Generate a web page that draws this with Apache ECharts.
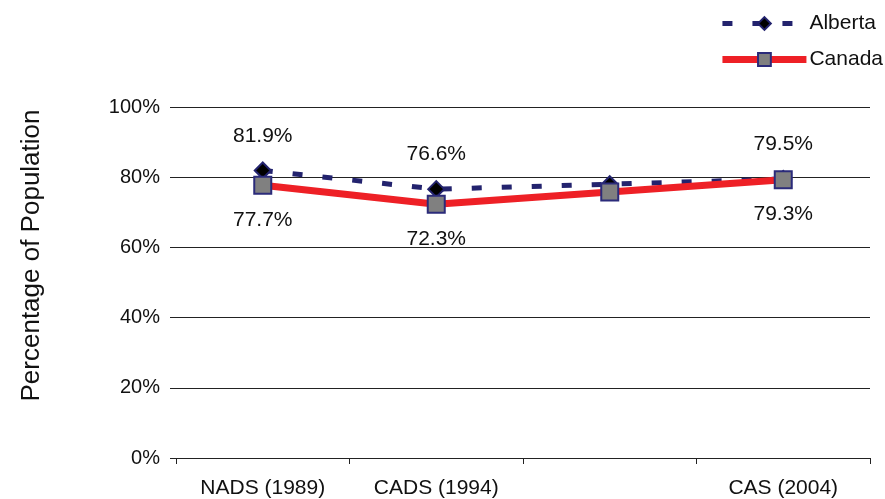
<!DOCTYPE html>
<html>
<head>
  <meta charset="UTF-8">
  <title>Percentage of Population</title>
  <script src="https://cdn.jsdelivr.net/npm/echarts@6/dist/echarts.min.js"></script>
  <style>
    body { margin: 0; padding: 0; background: #fff; }
    #chart { width: 885px; height: 499px; }
  </style>
</head>
<body>
  <div id="chart"></div>
  <script>
    // survey categories (third one has no label in the original)
    const surveys = ['NADS (1989)', 'CADS (1994)', '', 'CAS (2004)'];
    const alberta = [81.9, 76.6, 78.0, 79.5];
    const canada = [77.7, 72.3, 75.8, 79.3];
    const yTicks = [0, 20, 40, 60, 80, 100];
    // which points carry a value label
    const labelled = [true, true, false, true];

    const chart = echarts.init(document.getElementById('chart'));
    const font = 'Liberation Sans, Arial, sans-serif';
    const navy = '#23236e';
    const red = '#ee2026';

    function pct(p) {
      return labelled[p.dataIndex] ? p.value.toFixed(1) + '%' : '';
    }

    chart.setOption({
      animation: false,
      textStyle: { fontFamily: font },
      legend: {
        orient: 'vertical',
        right: -3,
        top: 8,
        itemWidth: 84,
        itemHeight: 16,
        itemGap: 15,
        textStyle: { fontSize: 21, color: '#111', fontFamily: font, padding: [0, 0, 0, -2] },
        data: [
          { name: 'Alberta', lineStyle: { width: 5, color: navy, type: [10, 20] } },
          { name: 'Canada', lineStyle: { width: 7, color: red } }
        ]
      },
      grid: { left: 176, right: 15, top: 107, bottom: 41 },
      xAxis: {
        type: 'category',
        data: surveys,
        boundaryGap: true,
        axisLine: { lineStyle: { color: '#222', width: 1 } },
        axisTick: { show: true, length: 6, lineStyle: { color: '#222' } },
        axisLabel: { fontSize: 21, color: '#111', margin: 20, interval: 0 }
      },
      yAxis: {
        type: 'value',
        min: yTicks[0],
        max: yTicks[yTicks.length - 1],
        interval: 20,
        name: 'Percentage of Population',
        nameLocation: 'middle',
        nameGap: 131,
        nameTextStyle: { fontSize: 26, color: '#111', padding: [0, 0, 0, 54] },
        axisLine: { show: false },
        axisTick: { show: true, length: 6, lineStyle: { color: '#222' } },
        axisLabel: { fontSize: 20, color: '#111', margin: 16, formatter: '{value}%' },
        splitLine: { lineStyle: { color: '#222', width: 1 } }
      },
      series: [
        {
          name: 'Alberta',
          type: 'line',
          data: alberta,
          symbol: 'diamond',
          symbolSize: 16,
          z: 3,
          itemStyle: { color: '#000', borderColor: navy, borderWidth: 2 },
          lineStyle: { color: navy, width: 5, type: [10, 20] },
          label: { show: true, position: 'top', distance: 15, fontSize: 21, color: '#111', formatter: pct }
        },
        {
          name: 'Canada',
          type: 'line',
          data: canada,
          symbol: 'rect',
          symbolSize: 17,
          z: 4,
          itemStyle: { color: '#808080', borderColor: '#2b2b7a', borderWidth: 2 },
          lineStyle: { color: red, width: 7 },
          label: { show: true, position: 'bottom', distance: 15, fontSize: 21, color: '#111', formatter: pct }
        }
      ]
    });
  </script>
</body>
</html>
